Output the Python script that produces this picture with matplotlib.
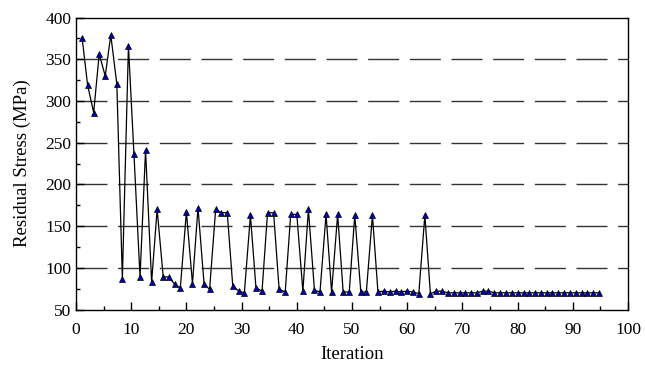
import matplotlib
matplotlib.use('Agg')
import matplotlib.pyplot as plt
from matplotlib.ticker import MultipleLocator

# Posiciones en el eje x (90 puntos)
iteration = [1.1, 2.1, 3.2, 4.2, 5.3, 6.3, 7.4, 8.4, 9.5, 10.5,
             11.6, 12.6, 13.7, 14.7, 15.8, 16.8, 17.9, 18.9, 20.0, 21.1,
             22.1, 23.2, 24.2, 25.3, 26.3, 27.4, 28.4, 29.5, 30.5, 31.6,
             32.6, 33.7, 34.7, 35.8, 36.8, 37.9, 38.9, 40.0, 41.1, 42.1,
             43.2, 44.2, 45.3, 46.3, 47.4, 48.4, 49.5, 50.5, 51.6, 52.6,
             53.7, 54.7, 55.8, 56.8, 57.9, 58.9, 60.0, 61.1, 62.1, 63.2,
             64.2, 65.3, 66.3, 67.4, 68.4, 69.5, 70.5, 71.6, 72.6, 73.7,
             74.7, 75.8, 76.8, 77.9, 78.9, 80.0, 81.1, 82.1, 83.2, 84.2,
             85.3, 86.3, 87.4, 88.4, 89.5, 90.5, 91.6, 92.6, 93.7, 94.7]

# Tension residual (MPa)
stress = [376, 319, 286, 356, 330, 379, 320, 87, 366, 236,
          89, 241, 83, 170, 89, 89, 80, 76, 167, 81,
          172, 81, 74, 170, 166, 166, 78, 72, 70, 163,
          76, 72, 166, 166, 74, 71, 164, 164, 72, 170,
          73, 71, 164, 71, 164, 71, 71, 163, 71, 71,
          163, 71, 72, 71, 72, 71, 72, 71, 69, 163,
          69, 72, 72, 70, 70, 70, 70, 70, 70, 72,
          72, 70, 70, 70, 70, 70, 70, 70, 70, 70,
          70, 70, 70, 70, 70, 70, 70, 70, 70, 70]

grid_values = [100, 150, 200, 250, 300, 350]

plt.rcParams['font.family'] = ['Liberation Serif', 'DejaVu Serif']

fig = plt.figure(figsize=(6.45, 3.68), dpi=100)
ax = fig.add_axes([76 / 645, 1 - 309.5 / 368, 552 / 645, 292 / 368])

# Lineas de rejilla discontinuas
for g in grid_values:
    ax.axhline(g, color='0.2', linewidth=1.0, linestyle=(0, (22.3, 7.7)), zorder=1)

ax.plot(iteration, stress, color='black', linewidth=0.9, marker='^', markersize=4.5,
        markerfacecolor='#0000b4', markeredgecolor='black', markeredgewidth=0.5, zorder=3)

ax.set_xlim(0, 100)
ax.set_ylim(50, 400)
ax.xaxis.set_major_locator(MultipleLocator(10))
ax.xaxis.set_minor_locator(MultipleLocator(5))
ax.yaxis.set_major_locator(MultipleLocator(50))
ax.yaxis.set_minor_locator(MultipleLocator(25))
ax.tick_params(which='both', direction='in', labelsize=12.5, top=False, right=False)
ax.tick_params(which='major', length=6, width=1)
ax.tick_params(which='minor', length=3, width=1)
ax.tick_params(axis='x', pad=9)
for s in ax.spines.values():
    s.set_linewidth(1.0)

ax.set_xlabel('Iteration', fontsize=13.5, labelpad=6)
ax.set_ylabel('Residual Stress (MPa)', fontsize=13.5, labelpad=10)

plt.savefig('out.png', dpi=100)
